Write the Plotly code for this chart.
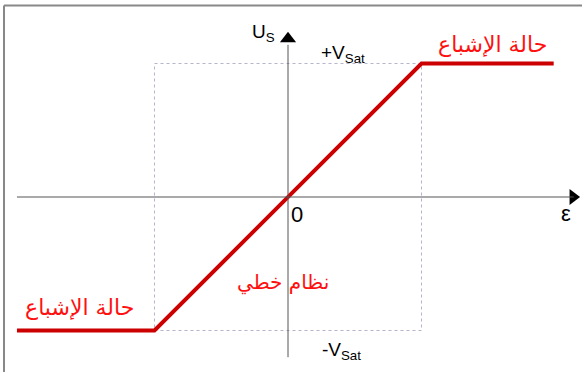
import plotly.graph_objects as go

# transfer characteristic Us = f(epsilon), saturation at +/- Vsat
eps = [-2.03, -1.0, 1.0, 1.99]
us = [-1.0, -1.0, 1.0, 1.0]
v_sat = 1.0

W, H = 582, 372
x_range = [-2.157, 2.202]
y_range = [-1.311, 1.476]

fig = go.Figure()

# dotted saturation box
fig.add_shape(type="rect", x0=-v_sat, x1=v_sat, y0=-v_sat, y1=v_sat,
              line=dict(color="#b4b4cc", width=1, dash="dot"), layer="below")

# axes
fig.add_shape(type="line", x0=-2.03, x1=2.14, y0=0, y1=0,
              line=dict(color="#555555", width=1))
fig.add_shape(type="line", x0=0, x1=0, y0=-1.2, y1=1.14,
              line=dict(color="#555555", width=1))

fig.add_trace(go.Scatter(x=eps, y=us, mode="lines",
                         line=dict(color="#cc0000", width=4),
                         hoverinfo="skip"))

# arrow heads
fig.add_trace(go.Scatter(x=[2.135], y=[0], mode="markers",
                         marker=dict(symbol="triangle-right", size=14, color="black"),
                         hoverinfo="skip"))
fig.add_trace(go.Scatter(x=[0], y=[1.185], mode="markers",
                         marker=dict(symbol="triangle-up", size=14, color="black"),
                         hoverinfo="skip"))

black = dict(family="Liberation Sans, Arial", size=19, color="black")
red = dict(family="DejaVu Sans, Liberation Sans", size=22, color="#ff1010")
red_small = dict(family="DejaVu Sans, Liberation Sans", size=20, color="#ff1010")

labels = [
    (-0.18, 1.23, "U<sub>S</sub>", black),
    (0.41, 1.07, "+V<sub>Sat</sub>", black),
    (0.40, -1.15, "-V<sub>Sat</sub>", black),
    (0.07, -0.13, "0", dict(black, size=22)),
    (2.08, -0.12, "ε", dict(black, size=22)),
    (1.53, 1.14, "حالة الإشباع", red),
    (-1.56, -0.83, "حالة الإشباع", red),
    (-0.04, -0.64, "نظام خطي", red_small),
]
for lx, ly, txt, fnt in labels:
    fig.add_annotation(x=lx, y=ly, text=txt, showarrow=False, font=fnt)

# frame (top and left edges)
fig.add_shape(type="line", xref="paper", yref="paper", x0=4 / W, x1=1,
              y0=1 - 5.5 / H, y1=1 - 5.5 / H, line=dict(color="#888888", width=2))
fig.add_shape(type="line", xref="paper", yref="paper", x0=4 / W, x1=4 / W,
              y0=0, y1=1 - 5.5 / H, line=dict(color="#888888", width=2))

fig.update_layout(
    width=W, height=H,
    margin=dict(l=0, r=0, t=0, b=0),
    paper_bgcolor="white", plot_bgcolor="white",
    showlegend=False,
    xaxis=dict(range=x_range, visible=False, fixedrange=True),
    yaxis=dict(range=y_range, visible=False, fixedrange=True),
)

# drop the default page margin so the figure fills the window
fig.write_html("out.html", config={"displayModeBar": False},
               post_script="document.body.style.margin='0';")
